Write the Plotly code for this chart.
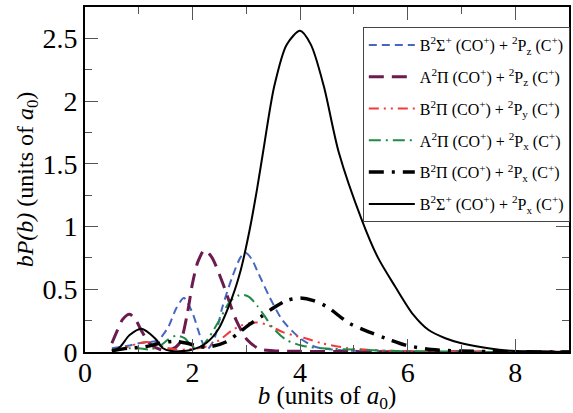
import plotly.graph_objects as go

# Impact-parameter distributions bP(b) for each CO+ / C+ channel
b_bsz = [0.5, 0.8, 1.0, 1.2, 1.35, 1.42, 1.55, 1.7, 1.84, 2.0, 2.1, 2.2, 2.27, 2.4, 2.55, 2.74, 2.9, 2.99, 3.1, 3.2, 3.43, 3.67, 4.0, 4.29, 4.6, 5.0, 5.5, 6.0, 7.0, 8.0, 9.0]
p_bsz = [0.03, 0.05, 0.07, 0.08, 0.09, 0.12, 0.2, 0.35, 0.43, 0.31, 0.18, 0.06, 0.02, 0.1, 0.35, 0.6, 0.76, 0.79, 0.74, 0.65, 0.44, 0.255, 0.11, 0.04, 0.02, 0.01, 0.005, 0.002, 0.001, 0.0, 0.0]

b_apz = [0.5, 0.6, 0.7, 0.83, 0.95, 1.05, 1.2, 1.4, 1.6, 1.76, 1.9, 2.0, 2.1, 2.22, 2.35, 2.56, 2.7, 2.81, 3.02, 3.24, 3.5, 4.0, 5.0, 6.0, 7.0, 8.0, 9.0]
p_apz = [0.07, 0.17, 0.26, 0.3, 0.25, 0.17, 0.07, 0.02, 0.02, 0.07, 0.3, 0.55, 0.72, 0.81, 0.76, 0.55, 0.38, 0.255, 0.095, 0.025, 0.01, 0.005, 0.003, 0.001, 0.001, 0.0, 0.0]

b_bpy = [0.5, 0.8, 1.0, 1.15, 1.3, 1.5, 1.7, 1.9, 2.1, 2.3, 2.5, 2.74, 2.9, 3.05, 3.2, 3.4, 3.67, 3.9, 4.1, 4.4, 4.9, 5.5, 6.0, 7.0, 8.0, 9.0]
p_bpy = [0.01, 0.04, 0.07, 0.08, 0.07, 0.035, 0.02, 0.02, 0.03, 0.05, 0.095, 0.175, 0.21, 0.23, 0.235, 0.215, 0.16, 0.13, 0.11, 0.07, 0.03, 0.012, 0.005, 0.002, 0.0, 0.0]

b_apx = [0.5, 0.8, 1.0, 1.2, 1.4, 1.55, 1.7, 1.85, 2.0, 2.1, 2.19, 2.31, 2.5, 2.69, 2.85, 2.95, 3.05, 3.2, 3.35, 3.48, 3.73, 4.04, 4.4, 5.0, 5.5, 6.0, 7.0, 8.0, 9.0]
p_apx = [0.02, 0.03, 0.03, 0.02, 0.05, 0.1, 0.13, 0.11, 0.04, 0.03, 0.055, 0.12, 0.255, 0.4, 0.45, 0.455, 0.44, 0.37, 0.28, 0.2, 0.1, 0.05, 0.03, 0.02, 0.012, 0.006, 0.002, 0.0, 0.0]

b_bpx = [0.5, 0.8, 1.1, 1.4, 1.65, 1.9, 2.1, 2.3, 2.62, 2.85, 3.06, 3.27, 3.5, 3.75, 4.0, 4.25, 4.5, 4.91, 5.34, 5.65, 5.96, 6.44, 7.0, 7.5, 8.0, 9.0]
p_bpx = [0.01, 0.03, 0.04, 0.07, 0.085, 0.07, 0.045, 0.04, 0.08, 0.15, 0.22, 0.28, 0.35, 0.41, 0.43, 0.41, 0.36, 0.23, 0.15, 0.1, 0.055, 0.02, 0.008, 0.004, 0.002, 0.0]

b_bsx = [0.5, 0.65, 0.83, 1.05, 1.3, 1.45, 1.6, 1.75, 2.0, 2.25, 2.47, 2.74, 2.9, 3.06, 3.2, 3.31, 3.52, 3.75, 4.0, 4.2, 4.44, 4.72, 5.15, 5.45, 5.77, 6.1, 6.39, 6.7, 7.0, 7.5, 7.93, 8.5, 9.0]
p_bsx = [0.005, 0.04, 0.135, 0.185, 0.11, 0.03, 0.008, 0.005, 0.02, 0.07, 0.175, 0.44, 0.66, 0.97, 1.3, 1.59, 2.12, 2.45, 2.56, 2.45, 2.12, 1.59, 1.05, 0.75, 0.52, 0.3, 0.175, 0.11, 0.07, 0.03, 0.01, 0.003, 0.0]

labels = [
    "B<sup>2</sup>Σ<sup>+</sup> (CO<sup>+</sup>) + <sup>2</sup>P<sub>z</sub> (C<sup>+</sup>)",
    "A<sup>2</sup>Π (CO<sup>+</sup>) + <sup>2</sup>P<sub>z</sub> (C<sup>+</sup>)",
    "B<sup>2</sup>Π (CO<sup>+</sup>) + <sup>2</sup>P<sub>y</sub> (C<sup>+</sup>)",
    "A<sup>2</sup>Π (CO<sup>+</sup>) + <sup>2</sup>P<sub>x</sub> (C<sup>+</sup>)",
    "B<sup>2</sup>Π (CO<sup>+</sup>) + <sup>2</sup>P<sub>x</sub> (C<sup>+</sup>)",
    "B<sup>2</sup>Σ<sup>+</sup> (CO<sup>+</sup>) + <sup>2</sup>P<sub>x</sub> (C<sup>+</sup>)",
]

series = [
    (b_bsz, p_bsz, "#4766c0", 2, "8px,5px"),
    (b_apz, p_apz, "#6b1c4f", 3, "15px,8px"),
    (b_bpy, p_bpy, "#f23a3a", 2, "10px,5px,2px,5px,2px,5px"),
    (b_apx, p_apx, "#1f8a45", 2, "12px,5px,2px,5px"),
    (b_bpx, p_bpx, "#000000", 3.5, "15px,8px,3px,8px"),
    (b_bsx, p_bsx, "#000000", 2, "solid"),
]

fig = go.Figure()
for (bx, py, color, width, dash), name in zip(series, labels):
    fig.add_trace(go.Scatter(
        x=bx, y=py, mode="lines", name=name,
        line=dict(color=color, width=width, dash=dash, shape="spline", smoothing=0.8),
        legendgroup=name,
    ))

serif = "Liberation Serif"
axis_common = dict(
    showline=True, linecolor="black", linewidth=2, mirror="ticks",
    ticks="inside", ticklen=13, tickwidth=1, tickcolor="#555",
    showgrid=False, zeroline=False,
    tickfont=dict(family=serif, size=28, color="black"),
)

fig.update_xaxes(
    range=[0, 9], dtick=2, tick0=0,
    minor=dict(dtick=1, ticks="inside", ticklen=7, tickcolor="#555"),
    title=dict(text="<i>b</i> (units of <i>a</i><sub>0</sub>)", font=dict(family=serif, size=25, color="black"), standoff=2),
    ticklabelstandoff=-6,
    **axis_common,
)
fig.update_yaxes(
    range=[0, 2.75], dtick=0.5, tick0=0,
    minor=dict(dtick=0.25, ticks="inside", ticklen=7, tickcolor="#555"),
    title=dict(text="<i>bP(b)</i> (units of <i>a</i><sub>0</sub>)", font=dict(family=serif, size=24, color="black"), standoff=2),
    **axis_common,
)

fig.update_layout(
    width=573, height=413,
    margin=dict(l=85, r=2, t=7, b=61),
    plot_bgcolor="white", paper_bgcolor="white",
    font=dict(family=serif),
    showlegend=True,
    legend=dict(
        x=0.574, y=0.942, xanchor="left", yanchor="top",
        bgcolor="white", bordercolor="#444", borderwidth=1,
        font=dict(family=serif, size=16, color="black"),
        tracegroupgap=8, itemwidth=46,
    ),
)

fig.write_html("out.html")
